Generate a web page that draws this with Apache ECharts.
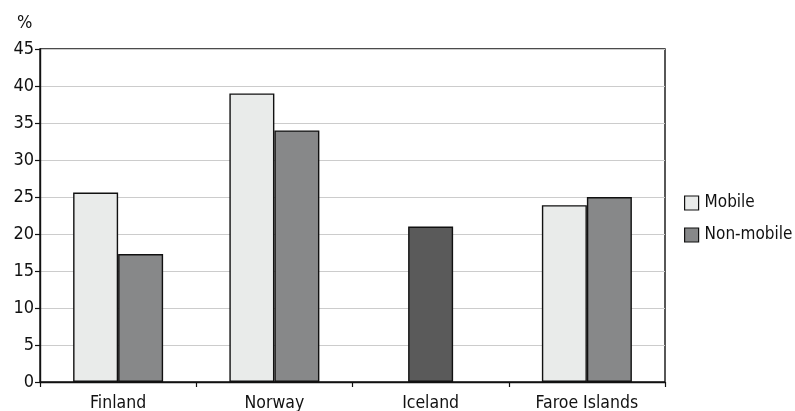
<!DOCTYPE html>
<html>
<head>
<meta charset="utf-8">
<script src="https://cdn.jsdelivr.net/npm/echarts@6/dist/echarts.min.js"></script>
<style>
  html, body { margin: 0; padding: 0; background: #fff; }
  #chart { width: 795px; height: 411px; }
</style>
</head>
<body>
<div id="chart"></div>
<script>
// Share of population (%) by region
const categories = ['Finland', 'Norway', 'Iceland', 'Faroe Islands'];
const mobile = [25.6, 39.0, null, 23.9];
const nonMobile = [17.3, 34.0, null, 25.0];
// Iceland reports a single combined figure, drawn centred in its slot
const combined = [null, null, 21.0, null];
const yTicks = { min: 0, max: 45, interval: 5 };

const FONT = '"DejaVu Sans Condensed", "Liberation Sans Narrow", "Noto Sans", sans-serif';
const TEXT = '#111';
const BORDER = '#111';

const chart = echarts.init(document.getElementById('chart'), null, { renderer: 'canvas' });

chart.setOption({
  animation: false,
  backgroundColor: '#fff',
  textStyle: { fontFamily: FONT, color: TEXT },
  title: {
    text: '%',
    left: 12,
    top: 9,
    textStyle: { fontFamily: FONT, fontSize: 18, fontWeight: 'normal', color: TEXT }
  },
  grid: {
    left: 40, right: 130, top: 49, bottom: 29,
    containLabel: false,
    outerBoundsMode: 'none',
    show: true, borderColor: '#111', borderWidth: 1.4, backgroundColor: 'transparent'
  },
  legend: {
    data: ['Mobile', 'Non-mobile'],
    orient: 'vertical',
    left: 679,
    top: 188,
    itemWidth: 14,
    itemHeight: 14,
    itemGap: 12,
    icon: 'rect',
    textStyle: { fontFamily: FONT, fontSize: 17, color: TEXT, lineHeight: 20, padding: [0, 0, 0, 1] },
    itemStyle: { borderColor: BORDER, borderWidth: 1.2 }
  },
  xAxis: [
    {
      type: 'category',
      data: categories,
      axisLine: { lineStyle: { color: '#111', width: 1.4 } },
      axisTick: { show: true, length: 5, inside: false, alignWithLabel: false, lineStyle: { color: '#111', width: 1.2 } },
      axisLabel: { fontFamily: FONT, fontSize: 17.5, color: TEXT, margin: 12 },
      splitLine: { show: false }
    },
    {
      type: 'category',
      data: categories,
      show: false
    }
  ],
  yAxis: {
    type: 'value',
    min: yTicks.min, max: yTicks.max, interval: yTicks.interval,
    axisLine: { show: true, lineStyle: { color: '#111', width: 1.4 } },
    axisTick: { show: true, length: 5, lineStyle: { color: '#111', width: 1.2 } },
    axisLabel: { fontFamily: FONT, fontSize: 18, color: TEXT, margin: 6 },
    splitLine: { show: true, lineStyle: { color: '#cccccc', width: 1.2 } }
  },
  series: [
    {
      name: 'Mobile',
      type: 'bar',
      xAxisIndex: 0,
      data: mobile,
      barWidth: 45,
      barGap: '0%',
      itemStyle: { color: '#e9ebea', borderColor: BORDER, borderWidth: 1.4 }
    },
    {
      name: 'Non-mobile',
      type: 'bar',
      xAxisIndex: 0,
      data: nonMobile,
      barWidth: 45,
      barGap: '0%',
      itemStyle: { color: '#878889', borderColor: BORDER, borderWidth: 1.4 }
    },
    {
      name: 'Combined',
      type: 'bar',
      xAxisIndex: 1,
      data: combined,
      barWidth: 45,
      itemStyle: { color: '#5a5a5a', borderColor: BORDER, borderWidth: 1.4 }
    }
  ]
});
</script>
</body>
</html>
